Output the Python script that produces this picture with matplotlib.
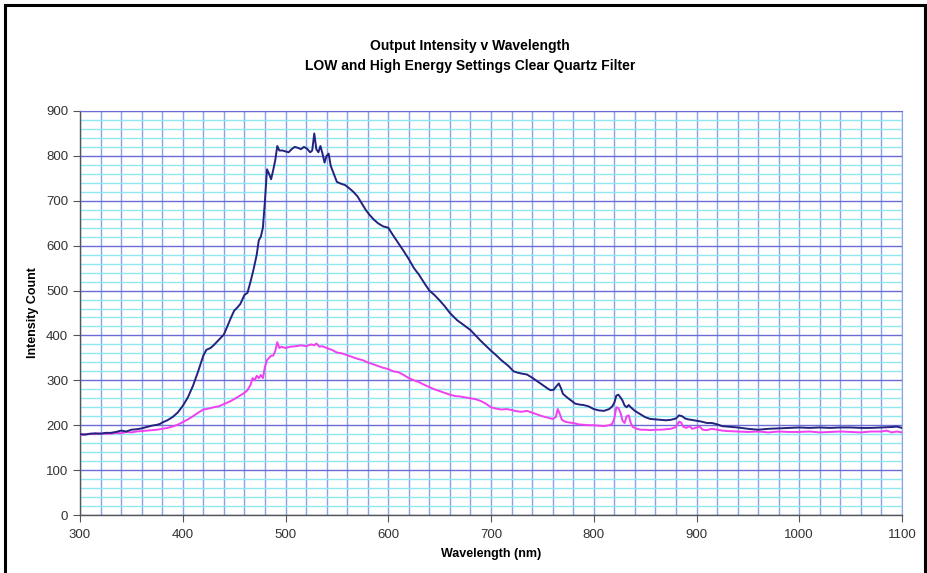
import matplotlib
matplotlib.use("Agg")
import matplotlib.pyplot as plt
from matplotlib.patches import Rectangle
from matplotlib.ticker import MultipleLocator

plt.rcParams['font.family'] = ['Liberation Sans', 'DejaVu Sans']

title_lines = ["Output Intensity v Wavelength", "LOW and High Energy Settings Clear Quartz Filter"]
x_label = "Wavelength (nm)"
y_label = "Intensity Count"

high_wl = [300, 305, 310, 315, 320, 325, 330, 335, 340, 345, 350, 355, 360, 365, 370, 375, 378, 380,
           385, 390, 395, 400, 405, 410, 415, 420, 423, 427, 430, 435, 440, 443, 447, 450, 453, 456,
           460, 463, 466, 469, 472, 474, 476, 478, 480, 482, 484, 486, 488, 490, 492, 494, 497, 500,
           503, 506, 509, 512, 515, 518, 521, 524, 526, 528, 530, 532, 534, 536, 538, 540, 542, 544,
           547, 550, 554, 558, 562, 566, 570, 574, 578, 582, 586, 590, 595, 600, 605, 610, 615, 620,
           625, 630, 635, 640, 645, 650, 655, 660, 667, 673, 680, 685, 690, 695, 700, 705, 710, 717,
           722, 726, 730, 735, 740, 745, 750, 755, 758, 761, 763, 766, 768, 770, 774, 778, 782, 786,
           790, 795, 800, 805, 810, 815, 818, 820, 822, 824, 826, 828, 830, 832, 834, 836, 840, 845,
           850, 855, 860, 865, 870, 875, 880, 883, 886, 889, 892, 895, 900, 905, 910, 915, 920, 925,
           930, 940, 950, 960, 970, 980, 990, 1000, 1010, 1020, 1030, 1040, 1050, 1060, 1070, 1080,
           1090, 1095, 1100]
high_val = [180, 179, 181, 182, 181, 183, 183, 185, 188, 186, 190, 191, 193, 196, 199, 201, 203, 206,
            211, 218, 228, 243, 262, 288, 320, 355, 368, 372, 378, 390, 402, 418, 440, 455, 462, 470,
            490, 495, 520, 548, 580, 612, 620, 640, 700, 770, 760, 748, 768, 790, 822, 812, 812, 810,
            808, 815, 820, 818, 815, 820, 816, 808, 812, 850, 815, 808, 822, 805, 785, 800, 805, 778,
            760, 742, 738, 735, 728, 720, 710, 695, 680, 668, 658, 650, 643, 640, 622, 605, 588, 570,
            550, 535, 517, 500, 490, 478, 465, 450, 434, 424, 412, 400, 388, 377, 366, 356, 345, 332,
            320, 317, 315, 313, 306, 298, 290, 282, 278, 279, 285, 293, 283, 270, 262, 255, 248, 246,
            245, 242, 236, 233, 232, 236, 242, 250, 266, 268, 262, 255, 244, 240, 245, 240, 232, 225,
            218, 214, 213, 212, 211, 212, 215, 222, 220, 215, 213, 212, 210, 208, 205, 205, 202, 198,
            197, 195, 192, 190, 192, 193, 194, 195, 194, 195, 194, 195, 195, 194, 194, 195,
            196, 197, 194]

low_wl = [300, 305, 310, 315, 320, 325, 330, 335, 340, 345, 350, 355, 360, 365, 370, 375, 380, 385,
          390, 395, 400, 405, 410, 415, 420, 425, 430, 435, 440, 445, 450, 455, 460, 463, 466, 468,
          470, 472, 474, 476, 478, 480, 482, 484, 486, 488, 490, 492, 494, 496, 500, 505, 510, 515,
          520, 525, 528, 530, 533, 536, 540, 545, 550, 555, 560, 565, 570, 575, 580, 585, 590, 595,
          600, 605, 610, 615, 620, 625, 630, 635, 640, 645, 650, 655, 660, 665, 670, 675, 680, 685,
          690, 695, 700, 705, 710, 715, 720, 725, 730, 735, 740, 745, 750, 755, 760, 763, 765, 767,
          769, 772, 776, 780, 785, 790, 795, 800, 805, 810, 815, 818, 820, 822, 824, 826, 828, 830,
          832, 834, 836, 838, 842, 846, 850, 855, 860, 865, 870, 875, 880, 883, 885, 887, 890, 893,
          896, 900, 903, 906, 910, 915, 920, 925, 930, 940, 950, 960, 970, 980, 990, 1000, 1010, 1020,
          1030, 1040, 1050, 1060, 1070, 1080, 1085, 1090, 1095, 1100]
low_val = [178, 180, 181, 180, 182, 181, 181, 183, 182, 185, 184, 186, 187, 188, 189, 190, 192, 194,
           197, 201, 207, 213, 220, 228, 235, 237, 240, 242, 247, 252, 258, 265, 272, 278, 290, 305,
           300, 310, 305, 312, 305, 330, 345, 350, 355, 355, 365, 385, 372, 375, 372, 375, 376, 378,
           376, 380, 378, 382, 375, 376, 372, 368, 362, 360, 356, 352, 348, 345, 340, 336, 332, 328,
           325, 320, 318, 312, 305, 300, 296, 290, 285, 280, 276, 272, 268, 265, 264, 262, 260, 258,
           254, 248, 240, 237, 235, 236, 234, 231, 230, 232, 228, 224, 220, 217, 214, 218, 236, 225,
           212, 208, 206, 205, 202, 201, 200, 200, 199, 198, 200, 203, 215, 240, 238, 228, 210, 205,
           220, 222, 205, 196, 192, 190, 190, 189, 190, 190, 191, 192, 196, 208, 206, 197, 194, 198,
           192, 195, 197, 190, 189, 192, 190, 188, 187, 186, 185, 186, 184, 186, 185, 185, 186, 184,
           185, 186, 185, 184, 186, 186, 188, 184, 186, 184]

x_ticks = [300, 400, 500, 600, 700, 800, 900, 1000, 1100]
y_ticks = [0, 100, 200, 300, 400, 500, 600, 700, 800, 900]

W, H = 928, 573
fig = plt.figure(figsize=(W / 100, H / 100), dpi=100)
ax = fig.add_axes([80 / W, (H - 515) / H, (902 - 80) / W, (515 - 111) / H])

ax.set_xlim(300, 1100)
ax.set_ylim(0, 900)
ax.set_xticks(x_ticks)
ax.set_yticks(y_ticks)
ax.xaxis.set_minor_locator(MultipleLocator(20))
ax.yaxis.set_minor_locator(MultipleLocator(20))

ax.grid(which='minor', axis='y', color='#8ee8ee', linewidth=1.0)
ax.grid(which='major', axis='y', color='#6b6bd6', linewidth=1.0)
ax.grid(which='both', axis='x', color='#86a2e8', linewidth=1.0)
ax.set_axisbelow(True)

ax.tick_params(which='minor', length=0)
ax.tick_params(which='major', direction='out', length=5, width=0.8, color='#555555',
               labelsize=9.5, labelcolor='#333333')
ax.tick_params(axis='x', pad=5)

for s in ['left', 'bottom']:
    ax.spines[s].set_color('#555555')
    ax.spines[s].set_linewidth(1.0)
ax.spines['top'].set_color('#6b6bd6')
ax.spines['right'].set_color('#86a2e8')

ax.plot(low_wl, low_val, color='#f040f0', linewidth=1.4, zorder=3)
ax.plot(high_wl, high_val, color='#23237e', linewidth=1.4, zorder=4)

ax.set_xlabel(x_label, fontsize=9, fontweight='bold', labelpad=5)
ax.set_ylabel(y_label, fontsize=9, fontweight='bold', labelpad=5)

fig.text(470 / W, 1 - 46 / H, title_lines[0], ha='center', va='center', fontsize=10, fontweight='bold')
fig.text(470 / W, 1 - 66 / H, title_lines[1], ha='center', va='center', fontsize=10, fontweight='bold')

fig.patches.append(Rectangle((4.5 / W, -0.05), (925 - 4.5) / W, 1 - 4.5 / H + 0.05,
                             transform=fig.transFigure, fill=False, edgecolor='black',
                             linewidth=2.2, clip_on=False))

fig.savefig("out.png", dpi=100)
